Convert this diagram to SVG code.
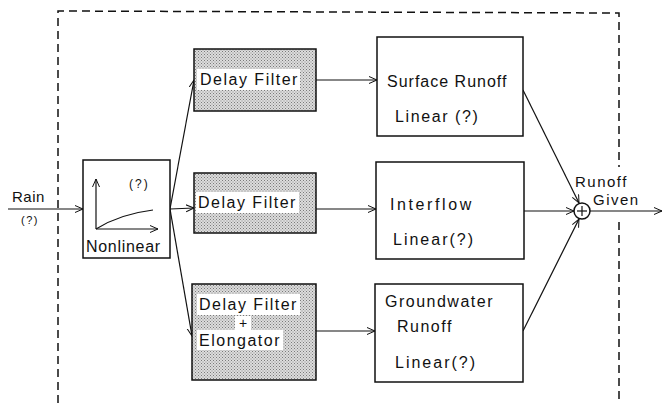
<svg xmlns="http://www.w3.org/2000/svg" width="667" height="403" viewBox="0 0 667 403">
<defs>
<marker id="arr" markerWidth="10" markerHeight="10" refX="8" refY="4" orient="auto" markerUnits="userSpaceOnUse">
<path d="M0,0.5 L8,4 L0,7.5" fill="none" stroke="#111" stroke-width="1"/>
</marker>
<pattern id="stip" width="3" height="3" patternUnits="userSpaceOnUse">
<rect width="3" height="3" fill="#dcdcdc"/>
<rect x="0" y="0" width="1" height="1" fill="#7a7a7a"/>
<rect x="1.5" y="1.5" width="1" height="1" fill="#8a8a8a"/>
</pattern>
<style>
text{font-family:"Liberation Sans",Arial,sans-serif;fill:#111;font-size:16px}
.box{fill:#fff;stroke:#111;stroke-width:1.5}
.gbox{fill:url(#stip);stroke:#111;stroke-width:1.5}
.hl{fill:#fff}
.ln{fill:none;stroke:#111;stroke-width:1.2}
.dash{fill:none;stroke:#111;stroke-width:1.5;stroke-dasharray:8 5}
.df{letter-spacing:1.5px}
</style>
</defs>
<g id="boundary">
<path class="dash" d="M58,403 L58,11 L619,13 L619,167"/>
<path class="dash" d="M619,222 L619,403"/>
</g>
<g id="connectors">
<line class="ln" x1="8" y1="209" x2="83" y2="209" marker-end="url(#arr)"/>
<line class="ln" x1="170" y1="209" x2="194" y2="80" marker-end="url(#arr)"/>
<line class="ln" x1="170" y1="209" x2="194" y2="208" marker-end="url(#arr)"/>
<line class="ln" x1="170" y1="209" x2="192" y2="336" marker-end="url(#arr)"/>
<line class="ln" x1="316" y1="80" x2="377" y2="80" marker-end="url(#arr)"/>
<line class="ln" x1="316" y1="209" x2="376" y2="209" marker-end="url(#arr)"/>
<line class="ln" x1="316" y1="331" x2="375" y2="331" marker-end="url(#arr)"/>
<line class="ln" x1="523" y1="90" x2="579" y2="203" marker-end="url(#arr)"/>
<line class="ln" x1="524" y1="211" x2="574" y2="211" marker-end="url(#arr)"/>
<line class="ln" x1="523" y1="331" x2="579" y2="219" marker-end="url(#arr)"/>
<line class="ln" x1="590" y1="211" x2="662" y2="211" marker-end="url(#arr)"/>
</g>
<g id="rain">
<text x="12" y="202" style="font-size:15px;letter-spacing:0.5px">Rain</text>
<text x="21" y="224" style="font-size:11px;letter-spacing:1.5px">(?)</text>
</g>
<g id="nonlinear">
<rect class="box" x="83" y="160" width="87" height="98"/>
<line class="ln" x1="96" y1="229" x2="96" y2="179" marker-end="url(#arr)"/>
<line class="ln" x1="96" y1="229" x2="158" y2="229" marker-end="url(#arr)"/>
<path class="ln" d="M96,229 Q120,214 153,210"/>
<text x="129" y="188" style="font-size:12px;letter-spacing:2px">(?)</text>
<text x="86" y="252" style="letter-spacing:0.7px">Nonlinear</text>
</g>
<g id="delay1">
<rect class="gbox" x="194" y="49" width="122" height="62"/>
<rect class="hl" x="197" y="69" width="103" height="21"/>
<text x="200" y="85" class="df">Delay Filter</text>
</g>
<g id="delay2">
<rect class="gbox" x="194" y="173" width="122" height="60"/>
<rect class="hl" x="196" y="192" width="103" height="21"/>
<text x="198" y="208" class="df">Delay Filter</text>
</g>
<g id="delay3">
<rect class="gbox" x="192" y="284" width="124" height="96"/>
<rect class="hl" x="197" y="294" width="103" height="21"/>
<rect class="hl" x="235" y="316" width="16" height="14"/>
<rect class="hl" x="197" y="330" width="86" height="20"/>
<text x="199" y="310" class="df">Delay Filter</text>
<text x="243" y="328" text-anchor="middle" style="font-size:14px">+</text>
<text x="199" y="346" class="df">Elongator</text>
</g>
<g id="surface">
<rect class="box" x="377" y="37" width="146" height="99"/>
<text x="387" y="87" style="letter-spacing:1px">Surface Runoff</text>
<text x="395" y="122" style="letter-spacing:1.6px">Linear (?)</text>
</g>
<g id="interflow">
<rect class="box" x="376" y="162" width="148" height="97"/>
<text x="390" y="210" style="letter-spacing:2.6px">Interflow</text>
<text x="393" y="245" style="letter-spacing:2px">Linear(?)</text>
</g>
<g id="groundwater">
<rect class="box" x="375" y="284" width="148" height="98"/>
<text x="385" y="307" style="letter-spacing:1.5px">Groundwater</text>
<text x="397" y="332" style="letter-spacing:1.5px">Runoff</text>
<text x="395" y="368" style="letter-spacing:2px">Linear(?)</text>
</g>
<g id="sum">
<circle cx="582" cy="211" r="8" fill="#fff" stroke="#111" stroke-width="1.5"/>
<line class="ln" x1="577" y1="211" x2="587" y2="211"/>
<line class="ln" x1="582" y1="206" x2="582" y2="216"/>
</g>
<g id="output">
<text x="575" y="187" style="font-size:15px;letter-spacing:1.5px">Runoff</text>
<text x="593" y="205" style="font-size:15px;letter-spacing:1.5px">Given</text>
</g>
</svg>
